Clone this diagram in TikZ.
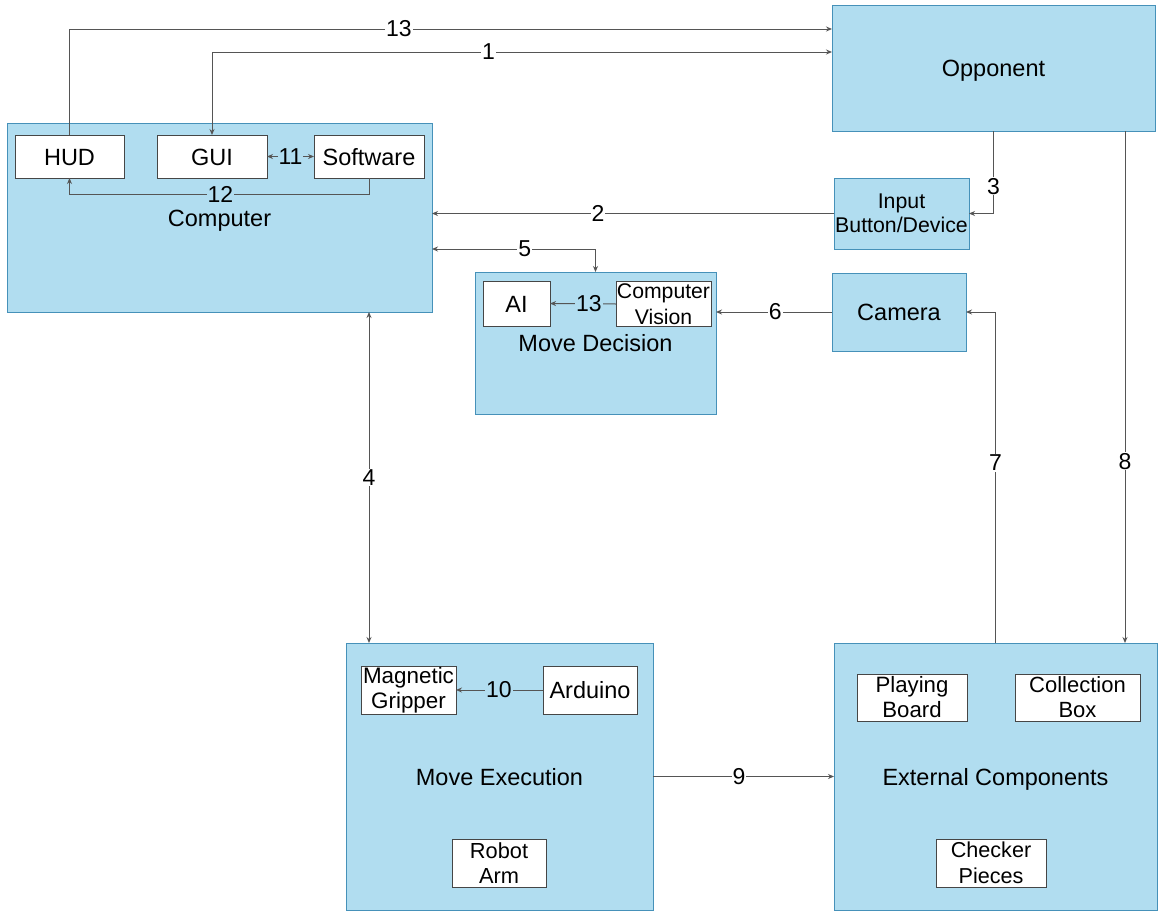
\documentclass[tikz,border=0pt]{standalone}
\usepackage{fontspec}
\setmainfont{Liberation Sans}
\usetikzlibrary{arrows.meta,calc}
\definecolor{boxfill}{RGB}{177,221,240}
\definecolor{boxline}{RGB}{70,145,185}
\definecolor{subline}{RGB}{70,70,70}
\definecolor{connline}{RGB}{85,85,85}
\tikzset{
  bigbox/.style={draw=boxline,fill=boxfill,line width=1pt,inner sep=0pt,outer sep=0pt,align=center,font=\fontsize{23.5}{26}\selectfont},
  subbox/.style={draw=subline,fill=white,line width=1pt,inner sep=0pt,outer sep=0pt,align=center,font=\fontsize{23.5}{25.5}\selectfont},
  oneline/.style={text height=17pt,text depth=0pt},
  conn/.style={draw=connline,line width=1pt},
  tip/.style={-{Stealth[length=6pt,width=5pt]}},
  tips/.style={{Stealth[length=6pt,width=5pt]}-{Stealth[length=6pt,width=5pt]}},
  lbl/.style={fill=white,inner sep=1pt,font=\fontsize{23}{24}\selectfont,text=black},
  lblin/.style={lbl,fill=boxfill}
}
\begin{document}
\begin{tikzpicture}[x=1pt,y=-1pt]
\useasboundingbox[fill=white] (0,0) rectangle (1165,921);
% big boxes
\node[bigbox,oneline,minimum width=425pt,minimum height=189pt] (comp) at (219.5,217.5) {Computer};
\node[bigbox,oneline,minimum width=323pt,minimum height=126pt] (oppo) at (993.5,68) {Opponent};
\node[bigbox,minimum width=135pt,minimum height=71pt,font=\fontsize{21.3}{24}\selectfont] (inp) at (901.5,213.5) {Input\\Button/Device};
\node[bigbox,oneline,minimum width=241pt,minimum height=142pt] (md) at (595.5,343) {Move Decision};
\node[bigbox,oneline,minimum width=134pt,minimum height=78pt] (cam) at (899,312) {Camera};
\node[bigbox,oneline,minimum width=307pt,minimum height=267pt] (me) at (499.5,776.5) {Move Execution};
\node[bigbox,oneline,minimum width=323pt,minimum height=267pt] (ext) at (995.5,776.5) {External Components};
% sub boxes
\node[subbox,oneline,minimum width=109pt,minimum height=43pt] (hud) at (69.5,156.5) {HUD};
\node[subbox,oneline,minimum width=110pt,minimum height=43pt] (gui) at (212,156.5) {GUI};
\node[subbox,oneline,minimum width=110pt,minimum height=43pt] (soft) at (369,156.5) {Software};
\node[subbox,oneline,minimum width=67pt,minimum height=45pt] (ai) at (516.5,303.5) {AI};
\node[subbox,minimum width=95pt,minimum height=45pt,font=\fontsize{21.2}{25.5}\selectfont] (cv) at (663.5,304) {Computer\\Vision};
\node[subbox,minimum width=95pt,minimum height=48pt,font=\fontsize{22.4}{25.5}\selectfont] (mg) at (408.5,690) {Magnetic\\Gripper};
\node[subbox,oneline,minimum width=94pt,minimum height=48pt] (ard) at (590,690) {Arduino};
\node[subbox,minimum width=94pt,minimum height=48pt,font=\fontsize{21.8}{25.5}\selectfont] (ra) at (499,863) {Robot\\Arm};
\node[subbox,minimum width=110pt,minimum height=47pt,font=\fontsize{22.2}{25}\selectfont] (pb) at (912,697.5) {Playing\\Board};
\node[subbox,minimum width=125pt,minimum height=47pt,font=\fontsize{22}{25}\selectfont] (cb) at (1077.5,697.5) {Collection\\Box};
\node[subbox,minimum width=110pt,minimum height=48pt,font=\fontsize{21.6}{25.5}\selectfont] (cp) at (991,863) {Checker\\Pieces};
% connectors
\draw[conn,tip] (hud.north) |- node[lbl,pos=0.716] (l13) {13} ($(oppo.north west)+(0,24)$);
\draw[conn,tips] ($(oppo.north west)+(0,47)$) -| node[lbl,pos=0.277] (l1) {1} (gui.north);
\draw[conn,tips] (gui.east) -- node[lblin] (l11) {11} (soft.west);
\draw[conn,tip] (soft.south) -- ++(0,16) -| node[lblin,pos=0.248] (l12) {12} (hud.south);
\draw[conn,tip] (inp.west) -- node[lbl,pos=0.587] (l2) {2} (inp.west -| comp.east);
\draw[conn,tip] (oppo.south) |- node[lbl,pos=0.335] (l3) {3} (inp.east);
\draw[conn,tips] ($(comp.north east)+(0,126)$) -| node[lbl,pos=0.284] (l5) {5} (md.north);
\draw[conn,tip] (cam.west) -- node[lbl,pos=0.49] (l6) {6} (cam.west -| md.east);
\draw[conn,tip] (cv.west) -- node[lblin,pos=0.41] (l13b) {13} (ai.east);
\draw[conn,tip] (ext.north) |- node[lbl,pos=0.272] (l7) {7} (cam.east);
\draw[conn,tip] ($(oppo.south east)+(-30,0)$) coordinate (o8) -- node[lbl,pos=0.645] (l8) {8} (ext.north -| o8);
\draw[conn,tips] ($(comp.south west)+(362,0)$) coordinate (c4) -- node[lbl,pos=0.5] (l4) {4} (me.north -| c4);
\draw[conn,tip] (ard.west) -- node[lblin,pos=0.506] (l10) {10} (mg.east);
\draw[conn,tip] (me.east) -- node[lbl,pos=0.475] (l9) {9} (ext.west);
\end{tikzpicture}
\end{document}
